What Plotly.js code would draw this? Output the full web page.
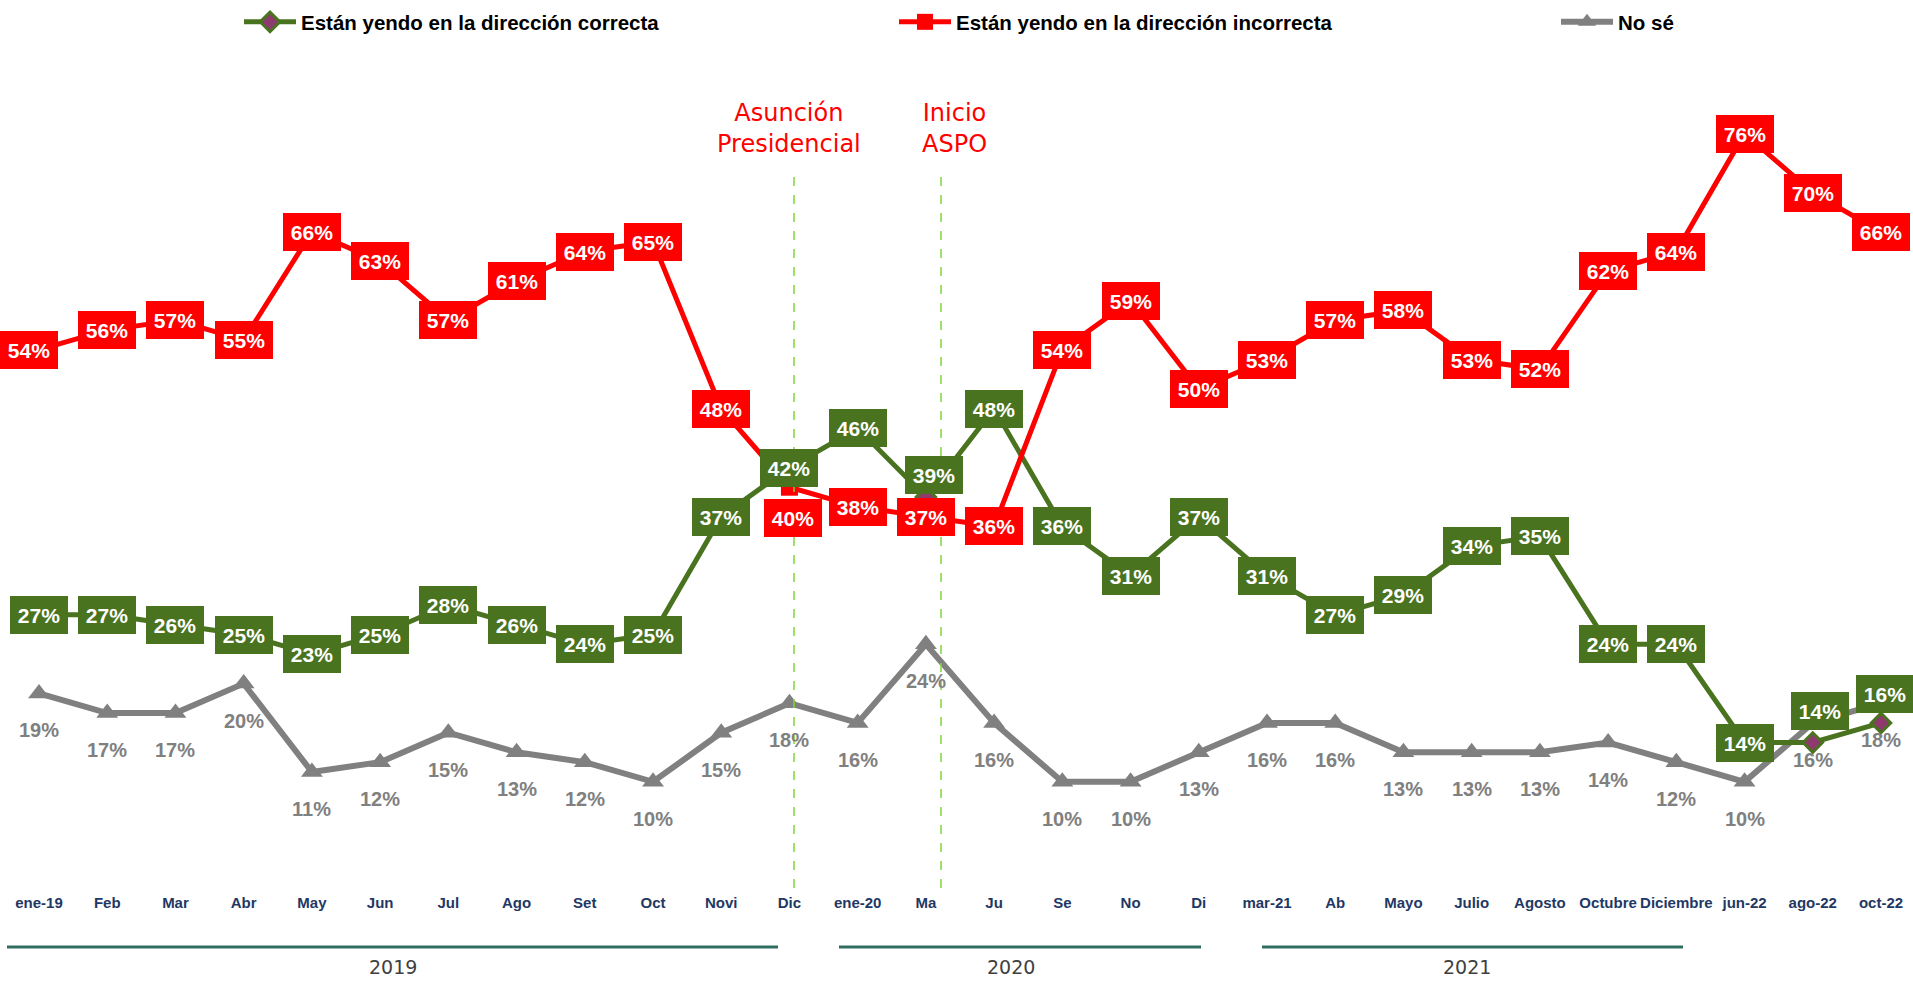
<!DOCTYPE html>
<html>
<head>
<meta charset="utf-8">
<script src="https://cdn.plot.ly/plotly-3.0.1.min.js"></script>
<style>
  html, body { margin: 0; padding: 0; background: #fff; }
  #chart { width: 1913px; height: 981px; }
</style>
</head>
<body>
<div id="chart"></div>
<script>
// series values (percent)
const categories = ['ene-19', 'Feb', 'Mar', 'Abr', 'May', 'Jun', 'Jul', 'Ago', 'Set', 'Oct', 'Novi', 'Dic',
    'ene-20', 'Ma', 'Ju', 'Se', 'No', 'Di', 'mar-21', 'Ab', 'Mayo', 'Julio', 'Agosto', 'Octubre', 'Diciembre',
    'jun-22', 'ago-22', 'oct-22'];
const correcta = [27, 27, 26, 25, 23, 25, 28, 26, 24, 25, 37, 42, 46, 39, 48, 36, 31, 37, 31, 27, 29, 34, 35, 24, 24, 14, 14, 16];
const incorrecta = [54, 56, 57, 55, 66, 63, 57, 61, 64, 65, 48, 40, 38, 37, 36, 54, 59, 50, 53, 57, 58, 53, 52, 62, 64, 76, 70, 66];
const noSe = [19, 17, 17, 20, 11, 12, 15, 13, 12, 10, 15, 18, 16, 24, 16, 10, 10, 13, 16, 16, 13, 13, 13, 14, 12, 10, 16, 18];

const seriesNames = ['Están yendo en la dirección correcta', 'Están yendo en la dirección incorrecta', 'No sé'];
const years = ['2019', '2020', '2021'];
const events = ['Asunción<br>Presidencial', 'Inicio<br>ASPO'];

const GREEN = '#4a7320';
const RED = '#ff0000';
const GREY = '#808080';
const W = 1913, H = 981;
const TOP = 50, BOTTOM = 880;   // plot area in px
const px = v => v / W;
const py = v => (BOTTOM - v) / (BOTTOM - TOP);

// label boxes that were moved by hand in the original
const greenShift = {13: [8, 22], 26: [7, 32], 27: [4, 29]};
const redShift = {0: [-10, 0], 11: [4, -31]};

const traces = [
    {
        x: categories, y: noSe, name: seriesNames[2], legend: 'legend3',
        mode: 'lines+markers',
        line: {color: GREY, width: 6},
        marker: {symbol: 'triangle-up', size: 19, color: GREY}
    },
    {
        x: categories, y: correcta, name: seriesNames[0], legend: 'legend',
        mode: 'lines+markers',
        line: {color: GREEN, width: 5},
        marker: {symbol: 'diamond', size: 15, color: '#8e3a6e', line: {color: GREEN, width: 3}}
    },
    {
        x: categories, y: incorrecta, name: seriesNames[1], legend: 'legend2',
        mode: 'lines+markers',
        line: {color: RED, width: 5},
        marker: {symbol: 'square', size: 17, color: RED}
    }
];

const annotations = [];
function boxLabel(cat, val, bg, shift) {
    const s = shift || [0, 0];
    annotations.push({
        x: cat, y: val, xref: 'x', yref: 'y', text: val + '%', showarrow: false,
        xshift: s[0], yshift: s[1],
        bgcolor: bg, borderpad: 5, borderwidth: 0, width: 48, height: 28,
        font: {family: 'Liberation Sans, Arial, sans-serif', size: 21, color: '#fff', weight: 'bold'}
    });
}
noSe.forEach((v, i) => {
    annotations.push({
        x: categories[i], y: v, xref: 'x', yref: 'y', text: v + '%', showarrow: false,
        yshift: -37,
        font: {family: 'Liberation Sans, Arial, sans-serif', size: 20, color: GREY, weight: 'bold'}
    });
});
correcta.forEach((v, i) => boxLabel(categories[i], v, GREEN, greenShift[i]));
incorrecta.forEach((v, i) => boxLabel(categories[i], v, RED, redShift[i]));

// event notes
[[789, 128], [954, 128]].forEach((p, i) => {
    annotations.push({
        x: px(p[0]), y: py(p[1]), xref: 'paper', yref: 'paper', text: events[i], showarrow: false,
        xanchor: 'center', yanchor: 'middle',
        font: {family: 'DejaVu Sans, sans-serif', size: 24, color: RED}
    });
});
// year labels
[393, 1011, 1467].forEach((x, i) => {
    annotations.push({
        x: px(x), y: py(967), xref: 'paper', yref: 'paper', text: years[i], showarrow: false,
        xanchor: 'center', yanchor: 'middle',
        font: {family: 'DejaVu Sans, sans-serif', size: 19, color: '#404040'}
    });
});

const shapes = [];
[794, 941].forEach(x => {
    shapes.push({type: 'line', xref: 'paper', yref: 'paper', x0: px(x), x1: px(x), y0: py(888), y1: py(177),
        line: {color: '#7fd63a', width: 1.5, dash: 'dash'}});
});
[[7, 778], [839, 1201], [1262, 1683]].forEach(r => {
    shapes.push({type: 'line', xref: 'paper', yref: 'paper', x0: px(r[0]), x1: px(r[1]), y0: py(947), y1: py(947),
        line: {color: '#2f6e60', width: 3}});
});

const legendBase = {
    orientation: 'h', yanchor: 'middle', xanchor: 'left', y: py(22),
    bgcolor: 'rgba(0,0,0,0)', itemwidth: 52,
    font: {family: 'Liberation Sans, Arial, sans-serif', size: 20.5, color: '#000', weight: 'bold'}
};

const layout = {
    width: W, height: H,
    margin: {l: 0, r: 0, t: TOP, b: H - BOTTOM},
    paper_bgcolor: '#fff', plot_bgcolor: '#fff',
    showlegend: true,
    legend: Object.assign({}, legendBase, {x: px(239)}),
    legend2: Object.assign({}, legendBase, {x: px(894)}),
    legend3: Object.assign({}, legendBase, {x: px(1556)}),
    xaxis: {
        type: 'category', range: [-0.572, 27.469], automargin: false,
        showgrid: false, zeroline: false, showline: false, ticks: '',
        ticklabelstandoff: 12,
        tickfont: {family: 'Liberation Sans, Arial, sans-serif', size: 15, color: '#1f3864', weight: 'bold'}
    },
    yaxis: {
        range: [0, (BOTTOM - TOP) / 9.82], automargin: false,
        showgrid: false, zeroline: false, showline: false, showticklabels: false, ticks: ''
    },
    annotations: annotations,
    shapes: shapes
};

Plotly.newPlot('chart', traces, layout, {displayModeBar: false, staticPlot: true});
</script>
</body>
</html>
